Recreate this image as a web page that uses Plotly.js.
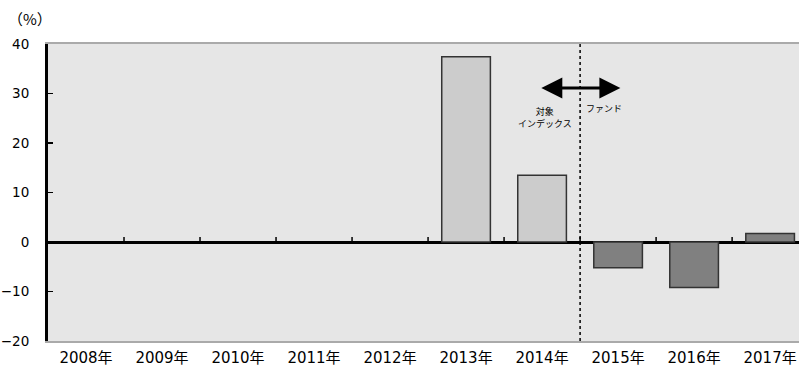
<!DOCTYPE html>
<html><head><meta charset="utf-8">
<script src="https://cdn.plot.ly/plotly-3.0.1.min.js"></script>
<style>html,body{margin:0;padding:0;background:#fff;}#chart{width:799px;height:371px;}</style>
</head><body><div id="chart"></div>
<script>
const years = ['2008年','2009年','2010年','2011年','2012年','2013年','2014年','2015年','2016年','2017年'];
const indexValues = [null, null, null, null, null, 37.4, 13.5, null, null, null];
const fundValues = [null, null, null, null, null, null, null, -5.2, -9.2, 1.7];
const yTicks = [-20, -10, 0, 10, 20, 30, 40];
const boundaryLabel = 6.5; // between 2014 and 2015
const F = '"Noto Sans CJK JP", "Noto Sans", sans-serif';
const FN = '"DejaVu Sans", "Noto Sans CJK JP", sans-serif';

const traces = [
  {type:'bar', x: years.map((_,i)=>i), y: indexValues, width:0.64,
   marker:{color:'#cccccc', line:{color:'#333333', width:1.5}}, hoverinfo:'skip'},
  {type:'bar', x: years.map((_,i)=>i), y: fundValues, width:0.64,
   marker:{color:'#808080', line:{color:'#333333', width:1.5}}, hoverinfo:'skip'}
];

const shapes = [];
for (let i = 0; i < years.length - 1; i++) {
  shapes.push({type:'line', xref:'x', yref:'y', ysizemode:'pixel', yanchor:0,
    x0:i+0.5, x1:i+0.5, y0:0, y1:5, line:{color:'#000', width:1.5}});
}
shapes.push({type:'line', xref:'x', yref:'paper', x0:boundaryLabel, x1:boundaryLabel, y0:0, y1:1,
  line:{color:'#000', width:1.5, dash:'dot'}});

const layout = {
  width:799, height:371,
  margin:{l:48, r:0, t:44, b:30},
  paper_bgcolor:'#ffffff', plot_bgcolor:'#e6e6e6',
  showlegend:false, barmode:'overlay',
  font:{family:F, size:14, color:'#000'},
  xaxis:{range:[-0.5, 9.38], tickmode:'array', tickvals: years.map((_,i)=>i), ticktext: years,
    showgrid:false, zeroline:false, showline:true, mirror:true, linecolor:'#aaaaaa', linewidth:2,
    ticks:'', ticklabelstandoff:2, tickfont:{family:FN, size:15, color:'#000'}, fixedrange:true},
  yaxis:{range:[-20, 40], tickmode:'array', tickvals:yTicks, ticktext: yTicks.map(v => v < 0 ? '\u2212' + Math.abs(v) : String(v)),
    showgrid:false, zeroline:true, zerolinecolor:'#000', zerolinewidth:3,
    showline:true, linecolor:'#000', linewidth:3, ticks:'inside', ticklen:5, tickwidth:1.5, tickcolor:'#000',
    ticklabelstandoff:13,
    tickfont:{family:FN, size:13.5, color:'#000'}, fixedrange:true},
  shapes: shapes,
  annotations:[
    {xref:'paper', yref:'paper', x:-0.056, y:1.0, yshift:26, xanchor:'left', yanchor:'middle', text:'（%）', showarrow:false,
     font:{family:F, size:15, color:'#000'}},
    {xref:'x', yref:'y', x:7.03, y:31.1, ax:5.97, ay:31.1, axref:'x', ayref:'y', text:'', showarrow:true,
     arrowhead:2, startarrowhead:2, arrowside:'end+start', arrowwidth:3, arrowsize:1.4, startarrowsize:1.4, arrowcolor:'#000'},
    {xref:'x', yref:'y', x:6.04, y:25.2, text:'対象<br>インデックス', showarrow:false, align:'center',
     font:{family:F, size:9, color:'#000'}},
    {xref:'x', yref:'y', x:6.82, y:26.9, text:'ファンド', showarrow:false, align:'center',
     font:{family:F, size:9, color:'#000'}}
  ]
};
Plotly.newPlot('chart', traces, layout, {displayModeBar:false, staticPlot:true});
</script></body></html>
